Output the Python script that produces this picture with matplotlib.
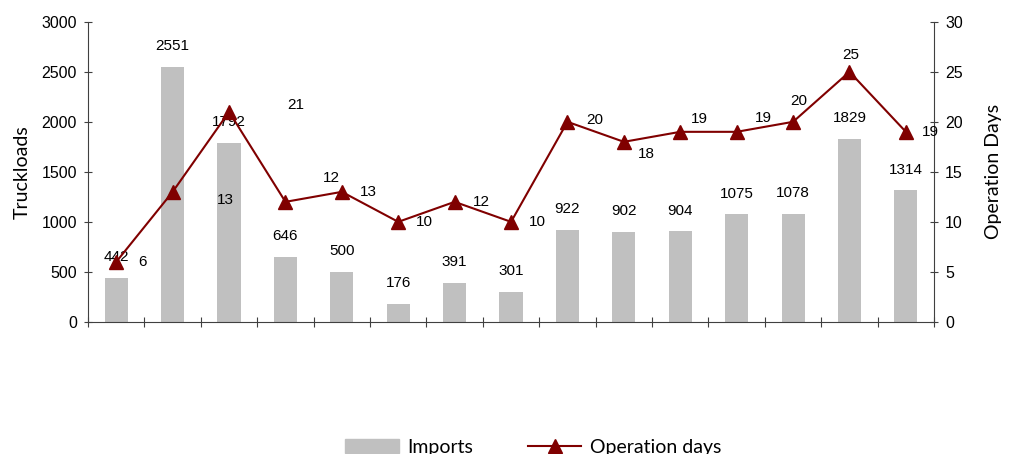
import matplotlib.pyplot as plt
import numpy as np
from matplotlib.lines import Line2D
from matplotlib.patches import Patch

# values
imports = [442, 2551, 1792, 646, 500, 176, 391, 301, 922, 902, 904, 1075, 1078, 1829, 1314]
op_days = [6, 13, 21, 12, 13, 10, 12, 10, 20, 18, 19, 19, 20, 25, 19]

# where each day label sits relative to its marker (points)
day_dx = [19, 38, 48, 33, 19, 19, 19, 19, 20, 16, 14, 19, 4, 1, 18]
day_dy = [0, -6, 5, 17, 0, 0, 0, 0, 1, -9, 9, 10, 15, 12, 0]

grey = '#c0c0c0'
red = '#800000'
axc = '#404040'

fig = plt.figure(figsize=(10.12, 4.54), dpi=100)
ax = fig.add_axes([0.087, 0.291, 0.836, 0.661])
x = np.arange(len(imports))

ax.bar(x, imports, width=0.41, color=grey, zorder=1)
for xi, v in zip(x, imports):
    ax.annotate(str(v), (xi, v), xytext=(0, 15), textcoords='offset points',
                ha='center', va='center', fontsize=11, family='Liberation Sans')

ax.set_xlim(-0.5, len(imports) - 0.5)
ax.set_ylim(0, 3000)
ax.set_yticks(range(0, 3001, 500))
ax.set_xticks(np.arange(-0.5, len(imports), 1))
ax.set_xticklabels([])
ax.set_ylabel('Truckloads', fontsize=14, family='Lato', labelpad=8)

ax2 = ax.twinx()
ax2.plot(x, op_days, color=red, lw=1.5, marker='^', markersize=10, zorder=3)
for xi, v, dx, dy in zip(x, op_days, day_dx, day_dy):
    ax2.annotate(str(v), (xi, v), xytext=(dx, dy), textcoords='offset points',
                 ha='center', va='center', fontsize=11, family='Liberation Sans')
ax2.set_ylim(0, 30)
ax2.set_yticks(range(0, 31, 5))
ax2.set_ylabel('Operation Days', fontsize=14, family='Lato', labelpad=16)

for a in (ax, ax2):
    a.spines['top'].set_visible(False)
    for s in ('left', 'right', 'bottom'):
        a.spines[s].set_color(axc)
    a.tick_params(direction='inout', length=6, color=axc, labelsize=11.5, pad=5)
    for lab in a.get_yticklabels():
        lab.set_family('Liberation Sans')
ax.spines['right'].set_visible(False)
ax2.spines['left'].set_visible(False)
ax2.spines['bottom'].set_visible(False)
ax.tick_params(axis='x', length=7)

handles = [Patch(color=grey),
           Line2D([], [], color=red, marker='^', markersize=10, lw=1.5)]
fig.legend(handles, ['Imports', 'Operation days'], loc='center',
           bbox_to_anchor=(0.527, 0.015), ncol=2, frameon=False,
           prop={'family': 'Lato', 'size': 14}, handlelength=2.75,
           handletextpad=0.45, columnspacing=2.8)

fig.savefig('out.png', dpi=100)
